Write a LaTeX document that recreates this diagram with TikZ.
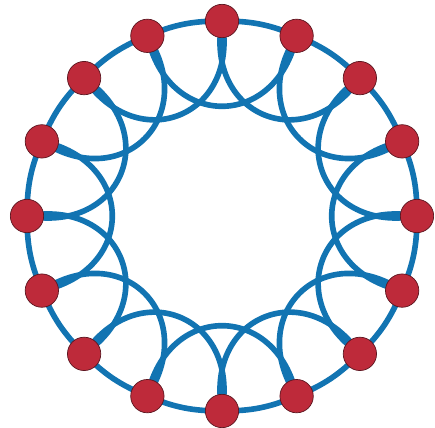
\documentclass[tikz,border=0pt]{standalone}
\usepackage{xcolor}
\usepackage{tikz}
\usetikzlibrary{backgrounds}
\definecolor{ringblue}{RGB}{18,116,178}
\definecolor{nodered}{RGB}{190,42,58}
\definecolor{nodeedge}{RGB}{92,22,32}

\begin{document}
\begin{tikzpicture}[x=0.03cm, y=0.03cm,
  vertex/.style={circle, fill=nodered, draw=nodeedge, line width=0.6pt,
    minimum size=1.0cm, inner sep=0pt},
  link/.style={ringblue, line width=4.8pt}]
\useasboundingbox (0,0) rectangle (435,428);

% ---- vertices on the ring ----
\foreach \k in {0,...,15}
  \node[vertex] (v\k) at ({222+195*cos(90-22.5*\k)}, {212+195*sin(90-22.5*\k)}) {};

% ---- edges: ring and inner loops ----
\begin{scope}[on background layer]
\foreach \k [evaluate=\k as \j using {int(mod(\k+1,16))},
             evaluate=\k as \m using {int(mod(\k+2,16))}] in {0,...,15} {
  \draw[link] (v\k.center) to[bend left=11.25] (v\j.center);
  \draw[link] (v\k.center) to[bend right=78, looseness=1.65] (v\m.center);
}
\end{scope}
\end{tikzpicture}
\end{document}
